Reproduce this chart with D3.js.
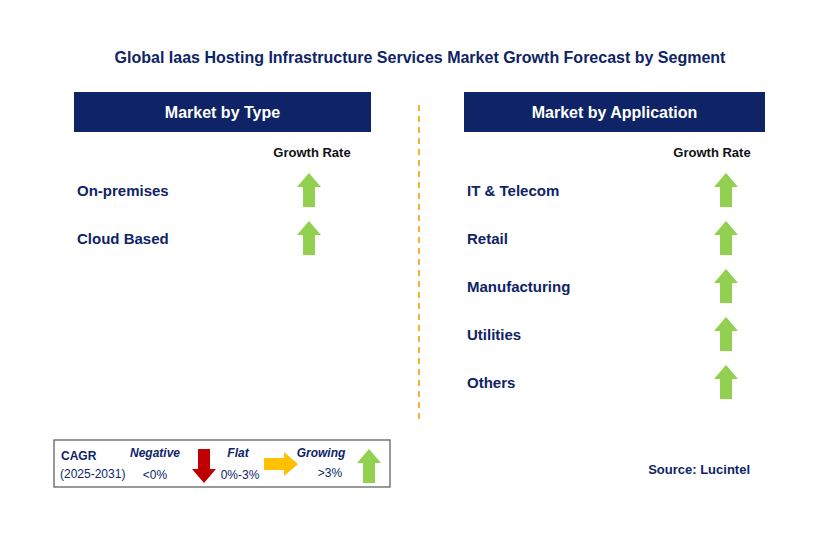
<!DOCTYPE html>
<html><head><meta charset="utf-8">
<script src="https://cdn.jsdelivr.net/npm/d3@7"></script>
<style>body{margin:0;background:#fff}text{font-family:Arial,"Liberation Sans",sans-serif}</style>
</head><body>
<svg id="c" width="829" height="553"></svg>
<script>
const title = "Global Iaas Hosting Infrastructure Services Market Growth Forecast by Segment";
const typeSegments = ["On-premises", "Cloud Based"];
const typeGrowth = ["up", "up"];
const appSegments = ["IT & Telecom", "Retail", "Manufacturing", "Utilities", "Others"];
const appGrowth = ["up", "up", "up", "up", "up"];

const svg = d3.select("#c");
const navy = "#0e2466", green = "#92d050";
svg.append("text").attr("x", 420).attr("y", 63).attr("text-anchor", "middle")
  .attr("font-size", 16).attr("font-weight", "bold").attr("fill", navy).text(title);

function arrow(g, cx, cy, dir, color) {
  const p = [[0,-17],[12,-3],[6,-3],[6,17],[-6,17],[-6,-3],[-12,-3]];
  const rot = dir === "up" ? 0 : dir === "down" ? 180 : 90;
  g.append("polygon").attr("points", p.map(d => d.join(",")).join(" "))
    .attr("transform", `translate(${cx},${cy}) rotate(${rot})`).attr("fill", color);
}

function panel(x0, x1, header, segs, growth, arrowX, headX) {
  svg.append("rect").attr("x", x0).attr("y", 92).attr("width", x1 - x0).attr("height", 40).attr("fill", navy);
  svg.append("text").attr("x", (x0 + x1) / 2).attr("y", 118).attr("text-anchor", "middle")
    .attr("font-size", 16).attr("font-weight", "bold").attr("fill", "#fff").text(header);
  svg.append("text").attr("x", headX).attr("y", 157).attr("text-anchor", "middle")
    .attr("font-size", 13).attr("font-weight", "bold").attr("fill", "#111").text("Growth Rate");
  const y = d3.scaleBand().domain(d3.range(5)).range([166, 406]);
  segs.forEach((s, i) => {
    const cy = y(i) + y.bandwidth() / 2;
    svg.append("text").attr("x", x0 + 3).attr("y", cy + 6).attr("font-size", 15)
      .attr("font-weight", "bold").attr("fill", navy).text(s);
    arrow(svg, arrowX, cy, growth[i], green);
  });
}
panel(74, 371, "Market by Type", typeSegments, typeGrowth, 309, 312);
panel(464, 765, "Market by Application", appSegments, appGrowth, 726, 712);

svg.append("line").attr("x1", 419).attr("x2", 419).attr("y1", 105).attr("y2", 422)
  .attr("stroke", "#f5b335").attr("stroke-width", 2).attr("stroke-dasharray", "6,5");

const L = svg.append("g");
L.append("rect").attr("x", 54).attr("y", 440).attr("width", 336).attr("height", 47)
  .attr("fill", "#fff").attr("stroke", "#555").attr("stroke-width", 1.2);
const t = (x, y, s, o = {}) => L.append("text").attr("x", x).attr("y", y).attr("font-size", o.fs || 12)
  .attr("font-weight", o.b ? "bold" : "normal").attr("font-style", o.i ? "italic" : "normal")
  .attr("text-anchor", o.a || "start").attr("fill", navy).text(s);
t(61, 460, "CAGR", {b: 1});
t(60, 478, "(2025-2031)");
t(155, 457, "Negative", {b: 1, i: 1, a: "middle"});
t(155, 479, "<0%", {a: "middle"});
t(238, 457, "Flat", {b: 1, i: 1, a: "middle"});
t(240, 479, "0%-3%", {a: "middle"});
t(321, 457, "Growing", {b: 1, i: 1, a: "middle"});
t(330, 477, ">3%", {a: "middle"});
arrow(L, 204, 466, "down", "#c00000");
arrow(L, 281, 464, "right", "#ffc000");
arrow(L, 369, 466, "up", green);

svg.append("text").attr("x", 750).attr("y", 474).attr("text-anchor", "end")
  .attr("font-size", 13).attr("font-weight", "bold").attr("fill", navy).text("Source: Lucintel");
</script></body></html>
